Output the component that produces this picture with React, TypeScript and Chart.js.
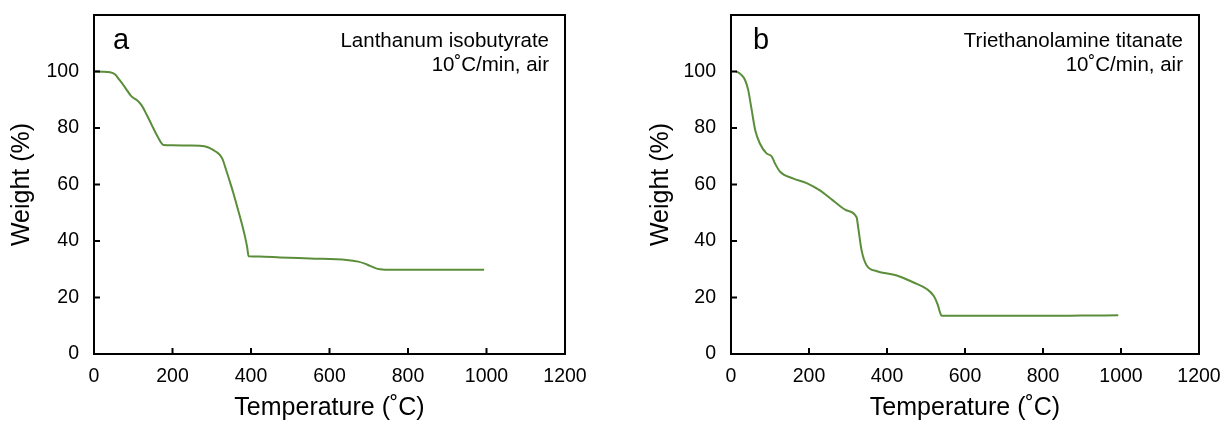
import React, { useEffect, useRef } from "react";
import { Chart, registerables } from "chart.js";

Chart.register(...registerables);

// ---------- data ----------
const tempA = [0, 20, 41, 54, 65, 79, 96, 109, 121, 135, 147, 162, 177, 200, 240, 270, 290, 304, 314, 321, 328, 334, 345, 355, 365, 375, 384, 390, 394, 420, 474, 550, 644, 673, 690, 703, 715, 729, 760, 850, 994];
const weightA = [100, 99.9, 99.7, 98.9, 97, 94.4, 91.1, 89.9, 88.1, 84.5, 81.1, 77, 74, 73.9, 73.8, 73.7, 73.2, 72.2, 71.3, 70.4, 68.8, 66.3, 61.5, 57, 52, 47, 42, 38, 34.6, 34.5, 34.2, 33.8, 33.3, 32.7, 32, 31.2, 30.5, 30.0, 29.8, 29.8, 29.8];

const tempB = [12, 17, 25, 36, 44, 53, 62, 74, 91, 104, 113, 126, 160, 194, 228, 262, 297, 322, 326, 335, 348, 374, 425, 467, 502, 520, 530, 536, 540, 600, 700, 800, 900, 993];
const weightB = [100, 99.8, 99, 97, 93.5, 86.4, 79.3, 74.5, 71, 70, 67.4, 64.5, 62.1, 60.5, 57.9, 54.3, 50.8, 48.4, 44.9, 36.6, 31.3, 29.3, 27.8, 25.4, 23, 20.5, 17.5, 14.7, 13.5, 13.5, 13.5, 13.5, 13.6, 13.7];

const xTicks = [0, 200, 400, 600, 800, 1000, 1200];
const yTicks = [0, 20, 40, 60, 80, 100];
const xTitle = "Temperature (˚C)";
const yTitle = "Weight (%)";
const panelA = { letter: "a", lines: ["Lanthanum isobutyrate", "10˚C/min, air"] };
const panelB = { letter: "b", lines: ["Triethanolamine titanate", "10˚C/min, air"] };

const FONT = "'Liberation Sans', Arial, sans-serif";
const LINE_COLOR = "#5B8E3B";

const framePlugin = {
  id: "frameNotes",
  afterDraw(chart: any, _args: any, opts: any) {
    const { ctx, chartArea } = chart;
    const { left, right, top, bottom } = chartArea;
    const xs = chart.scales.x;
    const ys = chart.scales.y;
    ctx.save();
    ctx.strokeStyle = "#000";
    ctx.lineWidth = 2;
    ctx.strokeRect(left, top, right - left, bottom - top);
    ctx.beginPath();
    xTicks.forEach((v) => {
      if (v === xTicks[0] || v === xTicks[xTicks.length - 1]) return;
      const px = xs.getPixelForValue(v);
      ctx.moveTo(px, bottom);
      ctx.lineTo(px, bottom - 6);
    });
    yTicks.forEach((v) => {
      if (v === 0) return;
      const py = ys.getPixelForValue(v);
      ctx.moveTo(left, py);
      ctx.lineTo(left + 6, py);
    });
    ctx.stroke();
    ctx.fillStyle = "#000";
    ctx.font = `29px ${FONT}`;
    ctx.textAlign = "left";
    ctx.textBaseline = "alphabetic";
    ctx.fillText(opts.letter, left + opts.letterDx, top + 34);
    ctx.font = `20.5px ${FONT}`;
    ctx.textAlign = "right";
    opts.lines.forEach((t: string, i: number) => {
      ctx.fillText(t, right - 16, top + 32 + i * 23.5);
    });
    ctx.restore();
  },
};

function makeConfig(temps: number[], weights: number[], yWidth: number, rightPad: number, yTitlePad: number, panel: any, letterDx: number) {
  return {
    type: "line" as const,
    data: {
      datasets: [
        {
          data: temps.map((t, i) => ({ x: t, y: weights[i] })),
          borderColor: LINE_COLOR,
          borderWidth: 2,
          pointRadius: 0,
          cubicInterpolationMode: "monotone" as const,
          fill: false,
        },
      ],
    },
    options: {
      responsive: false,
      animation: false as const,
      devicePixelRatio: 1,
      layout: { padding: { left: 0, right: rightPad, top: 15, bottom: 0 } },
      plugins: {
        legend: { display: false },
        tooltip: { enabled: false },
        frameNotes: { letter: panel.letter, lines: panel.lines, letterDx },
      },
      scales: {
        x: {
          type: "linear" as const,
          min: 0,
          max: 1200,
          afterBuildTicks: (s: any) => {
            s.ticks = xTicks.map((v) => ({ value: v }));
          },
          afterFit: (s: any) => {
            s.height = 69;
            s.paddingLeft = 0;
            s.paddingRight = 0;
          },
          ticks: {
            color: "#000",
            font: { family: FONT, size: 19.5 },
            padding: 11,
            maxRotation: 0,
            autoSkip: false,
            callback: (v: any) => String(v),
          },
          grid: { display: false, drawTicks: false },
          border: { display: true, color: "#000", width: 2 },
          title: {
            display: true,
            text: xTitle,
            color: "#000",
            font: { family: FONT, size: 25 },
            padding: { top: 0, bottom: 0 },
          },
        },
        y: {
          type: "linear" as const,
          min: 0,
          max: 120,
          afterBuildTicks: (s: any) => {
            s.ticks = [...yTicks, 120].map((v) => ({ value: v }));
          },
          afterFit: (s: any) => {
            s.width = yWidth;
            s.paddingTop = 0;
            s.paddingBottom = 0;
          },
          ticks: {
            color: "#000",
            font: { family: FONT, size: 19.5 },
            padding: 15,
            callback: (v: any) => (yTicks.includes(v) ? String(v) : ""),
          },
          grid: { display: false, drawTicks: false },
          border: { display: true, color: "#000", width: 2 },
          title: {
            display: true,
            text: yTitle,
            color: "#000",
            font: { family: FONT, size: 25 },
            padding: { top: yTitlePad, bottom: 0 },
          },
        },
      },
    },
    plugins: [framePlugin],
  };
}

function Panel({ width, config }: { width: number; config: any }) {
  const ref = useRef<HTMLCanvasElement | null>(null);
  useEffect(() => {
    if (!ref.current) return;
    const chart = new Chart(ref.current, config);
    return () => chart.destroy();
  }, []);
  return <canvas ref={ref} width={width} height={423} style={{ display: "block", width, height: 423 }} />;
}

export default function App() {
  const cfgA = makeConfig(tempA, weightA, 94, 46, 7.5, panelA, 19);
  const cfgB = makeConfig(tempB, weightB, 120, 24, 35, panelB, 22);
  return (
    <div style={{ position: "fixed", left: 0, top: 0, width: 1223, height: 423, display: "flex", background: "#fff" }}>
      <Panel width={611} config={cfgA} />
      <Panel width={612} config={cfgB} />
    </div>
  );
}
